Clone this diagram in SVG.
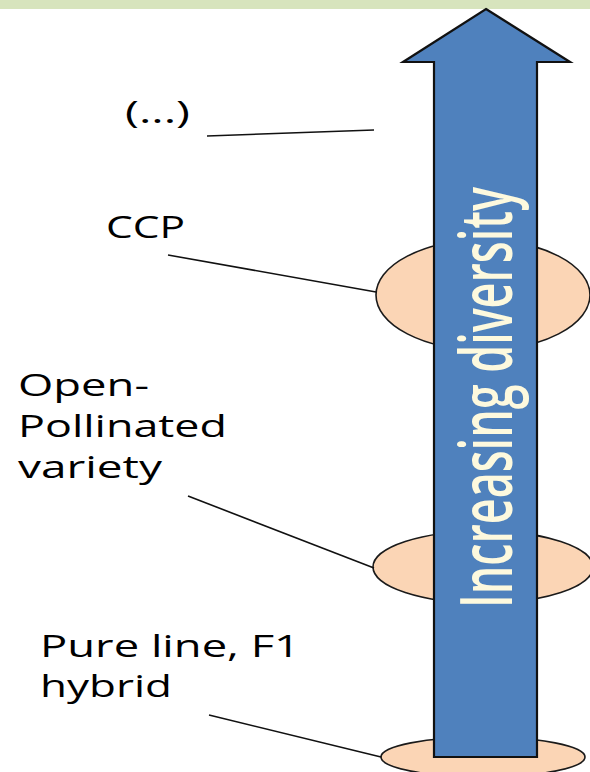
<svg xmlns="http://www.w3.org/2000/svg" width="590" height="772" viewBox="0 0 590 772">
<style>
.lbl{font-family:"Open Sans","Liberation Sans",sans-serif;font-size:31px;fill:#000;}
.ell{fill:#fbd5b5;stroke:#1a1a1a;stroke-width:1.6;}
.con{stroke:#111;stroke-width:1.6;fill:none;}
.arrow{fill:#4f81bd;stroke:#111;stroke-width:2.2;stroke-linejoin:miter;}
.atxt{font-family:"Open Sans","Liberation Sans",sans-serif;font-size:72px;font-weight:600;fill:#fdf9de;}
</style>
<rect x="0" y="0" width="590" height="772" fill="#ffffff"/>
<rect x="0" y="0" width="590" height="9" fill="#d7e4bd"/>
<g id="ellipse-ccp"><ellipse class="ell" cx="483" cy="295" rx="107" ry="55"/></g>
<g id="ellipse-opv"><ellipse class="ell" cx="483" cy="567" rx="110" ry="36"/></g>
<g id="ellipse-pure"><ellipse class="ell" cx="483" cy="757" rx="102" ry="20"/></g>
<g id="arrow">
<polygon class="arrow" points="486,9 570,62 537,62 537,757 434,757 434,62 403,62"/>
<text class="atxt" transform="translate(512,608) rotate(-90)" textLength="421" lengthAdjust="spacingAndGlyphs">Increasing diversity</text>
</g>
<g id="connectors">
<line class="con" x1="207" y1="136" x2="374" y2="130"/>
<line class="con" x1="168" y1="255" x2="376" y2="292"/>
<line class="con" x1="188" y1="496" x2="374" y2="568"/>
<line class="con" x1="209" y1="715" x2="381" y2="757"/>
</g>
<g id="label-etc"><text class="lbl" x="125" y="123" textLength="65" lengthAdjust="spacingAndGlyphs">(...)</text></g>
<g id="label-ccp"><text class="lbl" x="106" y="238" textLength="79" lengthAdjust="spacingAndGlyphs">CCP</text></g>
<g id="label-opv">
<text class="lbl" x="18" y="396" textLength="131" lengthAdjust="spacingAndGlyphs">Open-</text>
<text class="lbl" x="18" y="437" textLength="209" lengthAdjust="spacingAndGlyphs">Pollinated</text>
<text class="lbl" x="18" y="478" textLength="144" lengthAdjust="spacingAndGlyphs">variety</text>
</g>
<g id="label-pure">
<text class="lbl" x="40" y="657" textLength="260" lengthAdjust="spacingAndGlyphs">Pure line, F1</text>
<text class="lbl" x="40" y="697" textLength="132" lengthAdjust="spacingAndGlyphs">hybrid</text>
</g>
</svg>
